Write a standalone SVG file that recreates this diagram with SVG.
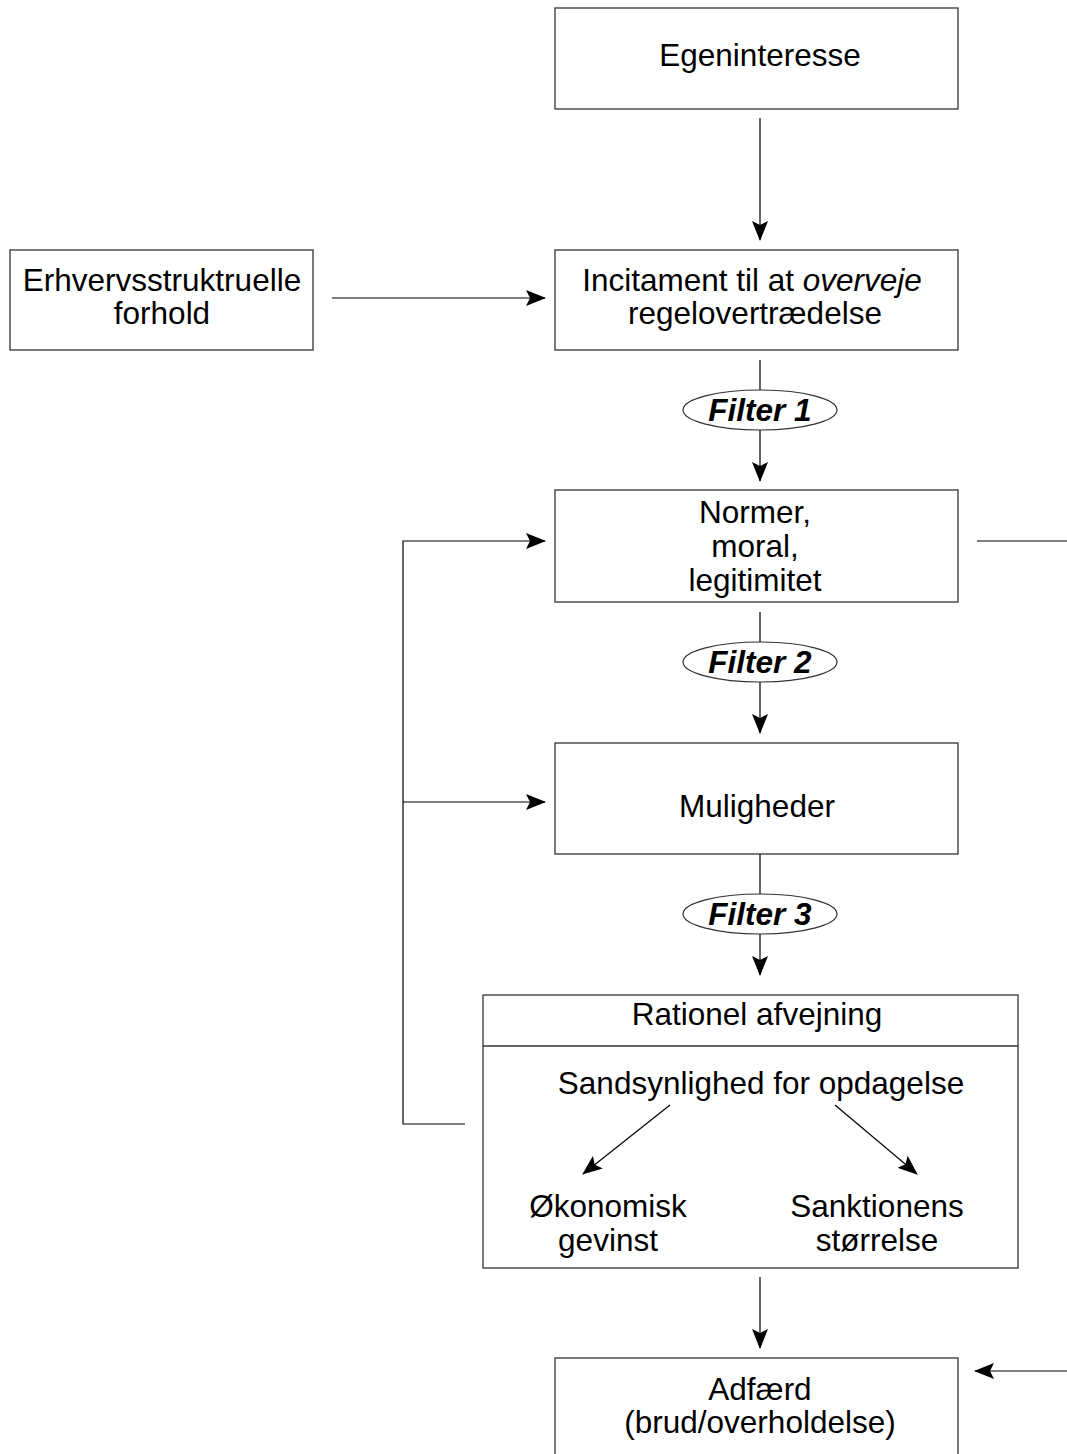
<svg xmlns="http://www.w3.org/2000/svg" width="1067" height="1454" viewBox="0 0 1067 1454">
<defs>
<style>
.box{fill:#fff;stroke:#333;stroke-width:1.3}
.ell{fill:#fff;stroke:#333;stroke-width:1.2}
.ln{fill:none;stroke:#000;stroke-width:1.2}
text{font-family:"Liberation Sans",Arial,sans-serif;font-size:31.5px;fill:#000;text-anchor:middle}
.f{font-weight:bold;font-style:italic}
</style>
<marker id="ah" viewBox="0 0 20 16" refX="19" refY="8" markerWidth="20" markerHeight="16" markerUnits="userSpaceOnUse" orient="auto">
<path d="M0,0 L20,8 L0,16 L4,8 Z" fill="#000"/>
</marker>
</defs>
<g id="egeninteresse">
<rect class="box" x="555" y="8" width="403" height="101"/>
<text x="760" y="66">Egeninteresse</text>
</g>
<g id="erhverv">
<rect class="box" x="10" y="250" width="303" height="100"/>
<text x="162" y="291">Erhvervsstruktruelle</text>
<text x="162" y="324">forhold</text>
</g>
<g id="incitament">
<rect class="box" x="555" y="250" width="403" height="100"/>
<text x="752" y="291">Incitament til at <tspan font-style="italic">overveje</tspan></text>
<text x="755" y="324">regelovertrædelse</text>
</g>
<g id="filter1">
<ellipse class="ell" cx="760" cy="410" rx="77" ry="20"/>
<text class="f" x="760" y="421">Filter 1</text>
</g>
<g id="normer">
<rect class="box" x="555" y="490" width="403" height="112"/>
<text x="755" y="523">Normer,</text>
<text x="755" y="557">moral,</text>
<text x="755" y="591">legitimitet</text>
</g>
<g id="filter2">
<ellipse class="ell" cx="760" cy="662" rx="77" ry="20"/>
<text class="f" x="760" y="673">Filter 2</text>
</g>
<g id="muligheder">
<rect class="box" x="555" y="743" width="403" height="111"/>
<text x="757" y="817">Muligheder</text>
</g>
<g id="filter3">
<ellipse class="ell" cx="760" cy="914" rx="77" ry="20"/>
<text class="f" x="760" y="925">Filter 3</text>
</g>
<g id="rationel">
<rect class="box" x="483" y="995" width="535" height="273"/>
<line class="box" x1="483" y1="1046" x2="1018" y2="1046"/>
<text x="757" y="1025">Rationel afvejning</text>
<text x="761" y="1094">Sandsynlighed for opdagelse</text>
<text x="608" y="1217">Økonomisk</text>
<text x="608" y="1251">gevinst</text>
<text x="877" y="1217">Sanktionens</text>
<text x="877" y="1251">størrelse</text>
</g>
<g id="adfaerd">
<rect class="box" x="555" y="1358" width="403" height="110"/>
<text x="760" y="1400">Adfærd</text>
<text x="760" y="1433">(brud/overholdelse)</text>
</g>
<g id="connectors">
<line class="ln" x1="760" y1="118" x2="760" y2="240" marker-end="url(#ah)"/>
<line class="ln" x1="332" y1="298" x2="545" y2="298" marker-end="url(#ah)"/>
<line class="ln" x1="760" y1="360" x2="760" y2="390"/>
<line class="ln" x1="760" y1="430" x2="760" y2="481" marker-end="url(#ah)"/>
<line class="ln" x1="977" y1="541" x2="1067" y2="541"/>
<polyline class="ln" points="465,1124 403,1124 403,541 545,541" marker-end="url(#ah)"/>
<line class="ln" x1="403" y1="802" x2="545" y2="802" marker-end="url(#ah)"/>
<line class="ln" x1="760" y1="612" x2="760" y2="642"/>
<line class="ln" x1="760" y1="682" x2="760" y2="733" marker-end="url(#ah)"/>
<line class="ln" x1="760" y1="854" x2="760" y2="894"/>
<line class="ln" x1="760" y1="934" x2="760" y2="975" marker-end="url(#ah)"/>
<line class="ln" x1="670" y1="1105" x2="583" y2="1174" marker-end="url(#ah)"/>
<line class="ln" x1="835" y1="1105" x2="917" y2="1174" marker-end="url(#ah)"/>
<line class="ln" x1="760" y1="1277" x2="760" y2="1348" marker-end="url(#ah)"/>
<line class="ln" x1="1067" y1="1371" x2="975" y2="1371" marker-end="url(#ah)"/>
</g>
</svg>
